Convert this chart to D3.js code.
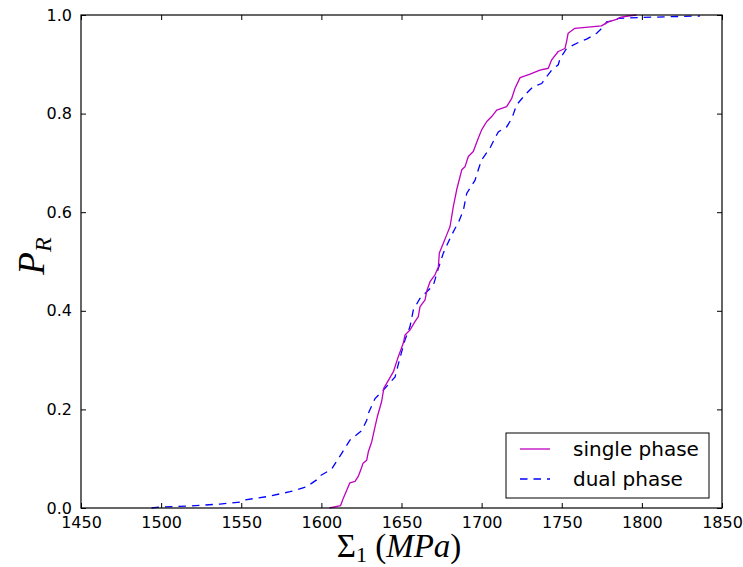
<!DOCTYPE html>
<html>
<head>
<meta charset="utf-8">
<script src="https://cdn.jsdelivr.net/npm/d3@7"></script>
<style>
  body { margin: 0; background: #fff; }
</style>
</head>
<body>
<div id="graph"></div>
<script>
// single phase (solid magenta)
var singleX = [1605, 1612, 1613.7, 1617.8, 1621, 1623, 1625, 1626, 1628.3, 1629.3, 1631.4, 1633.5, 1634.9,
  1637.6, 1639, 1644.9, 1648, 1651.1, 1652.2, 1655.3, 1658.4, 1660.5, 1661.5, 1664.7, 1665.7, 1667.8,
  1670.9, 1673, 1673.6, 1676.1, 1678.2, 1680.3, 1682.3, 1684.4, 1687.6, 1689.6, 1691.7, 1694.8, 1697.9,
  1700, 1703.2, 1706.3, 1709.4, 1715.6, 1718.8, 1720.8, 1724, 1730.2, 1736.4, 1741.6, 1743.7, 1747.8,
  1752, 1753, 1754, 1758.2, 1774.8, 1779, 1784.2, 1786.3, 1791.5, 1796.7];
var singleP = [0.0, 0.005, 0.02, 0.051, 0.054, 0.064, 0.081, 0.091, 0.097, 0.114, 0.134, 0.165, 0.185,
  0.216, 0.243, 0.276, 0.307, 0.334, 0.351, 0.361, 0.378, 0.388, 0.408, 0.422, 0.439, 0.459,
  0.473, 0.489, 0.517, 0.537, 0.554, 0.571, 0.611, 0.645, 0.686, 0.692, 0.713, 0.723, 0.75,
  0.767, 0.784, 0.794, 0.807, 0.814, 0.831, 0.851, 0.873, 0.88, 0.888, 0.892, 0.909, 0.926,
  0.932, 0.946, 0.963, 0.973, 0.978, 0.986, 0.991, 0.995, 0.998, 1.0];

// dual phase (dashed blue)
var dualX = [1494, 1499.3, 1518, 1536.7, 1549, 1551.3, 1565.9, 1580.4, 1590.8, 1597, 1599, 1606.4,
  1612.7, 1617.9, 1625.2, 1628.3, 1629.3, 1633.5, 1639.7, 1646, 1649, 1652.2, 1655.3, 1657.4, 1661.5,
  1669.9, 1673, 1676.1, 1680.3, 1683.4, 1685.4, 1688.6, 1690.7, 1695.9, 1697.9, 1700, 1705.2, 1708.3,
  1710.4, 1715.6, 1718.8, 1721.9, 1727.1, 1732.2, 1737.5, 1740.6, 1743.7, 1747.8, 1749, 1753, 1761.4,
  1765.5, 1771.8, 1776, 1778, 1782.2, 1785.3, 1798.8, 1836.2];
var dualP = [0.0, 0.002, 0.004, 0.008, 0.012, 0.016, 0.023, 0.033, 0.043, 0.057, 0.065, 0.079,
  0.111, 0.138, 0.157, 0.178, 0.192, 0.222, 0.243, 0.266, 0.304, 0.341, 0.368, 0.402, 0.425,
  0.452, 0.486, 0.517, 0.547, 0.567, 0.578, 0.604, 0.638, 0.665, 0.686, 0.706, 0.73, 0.75,
  0.763, 0.773, 0.79, 0.818, 0.838, 0.855, 0.861, 0.875, 0.888, 0.899, 0.912, 0.932, 0.946,
  0.951, 0.963, 0.976, 0.986, 0.988, 0.993, 0.995, 0.998];

var xTicks = [1450, 1500, 1550, 1600, 1650, 1700, 1750, 1800, 1850];
var yTicks = [0.0, 0.2, 0.4, 0.6, 0.8, 1.0];
var seriesNames = ["single phase", "dual phase"];

var svgWidth = 743, svgHeight = 567;
var margin = { top: 15, right: 21, bottom: 59, left: 81 };
var width = svgWidth - margin.left - margin.right;
var height = svgHeight - margin.top - margin.bottom;

var svg = d3.select("#graph").append("svg")
    .attr("width", svgWidth)
    .attr("height", svgHeight);

var g = svg.append("g")
    .attr("transform", "translate(" + margin.left + "," + margin.top + ")");

var x = d3.scaleLinear().domain([1450, 1850]).range([0, width]);
var y = d3.scaleLinear().domain([0, 1]).range([height, 0]);

// ticks pointing inward on all four sides
function styleAxis(sel) {
  sel.select(".domain").remove();
  sel.selectAll(".tick line").attr("stroke", "#000").attr("stroke-width", 1);
  sel.selectAll(".tick text")
     .style("font-size", "16px")
     .style("font-family", "'DejaVu Sans', sans-serif")
     .attr("fill", "#000");
}

g.append("g")
    .attr("transform", "translate(0," + height + ")")
    .call(d3.axisBottom(x).tickValues(xTicks).tickFormat(d3.format("d")).tickSizeInner(-5).tickPadding(9))
    .call(styleAxis);

g.append("g")
    .call(d3.axisTop(x).tickValues(xTicks).tickFormat("").tickSizeInner(-5))
    .call(styleAxis);

g.append("g")
    .call(d3.axisLeft(y).tickValues(yTicks).tickFormat(d3.format(".1f")).tickSizeInner(-5).tickPadding(9))
    .call(styleAxis);

g.append("g")
    .attr("transform", "translate(" + width + ",0)")
    .call(d3.axisRight(y).tickValues(yTicks).tickFormat("").tickSizeInner(-5))
    .call(styleAxis);

var line = d3.line()
    .x(function(d) { return x(d[0]); })
    .y(function(d) { return y(d[1]); });

g.append("path")
    .datum(d3.zip(dualX, dualP))
    .attr("fill", "none")
    .attr("stroke", "#0000ff")
    .attr("stroke-width", 1.3)
    .attr("stroke-dasharray", "7.5,6")
    .attr("d", line);

g.append("path")
    .datum(d3.zip(singleX, singleP))
    .attr("fill", "none")
    .attr("stroke", "#bf00bf")
    .attr("stroke-width", 1.3)
    .attr("stroke-linejoin", "round")
    .attr("d", line);

// frame
g.append("rect")
    .attr("width", width).attr("height", height)
    .attr("fill", "none").attr("stroke", "#000").attr("stroke-width", 1.2);

// legend
var legend = g.append("g").attr("transform", "translate(" + (506 - margin.left) + "," + (433 - margin.top) + ")");
legend.append("rect")
    .attr("width", 203).attr("height", 65)
    .attr("fill", "#fff").attr("stroke", "#000").attr("stroke-width", 1);
var styles = [{ c: "#bf00bf", d: null }, { c: "#0000ff", d: "7.5,6" }];
seriesNames.forEach(function(name, i) {
  var yy = 16 + i * 30;
  legend.append("line")
      .attr("x1", 14).attr("x2", 44).attr("y1", yy).attr("y2", yy)
      .attr("stroke", styles[i].c).attr("stroke-width", 1.3)
      .attr("stroke-dasharray", styles[i].d);
  legend.append("text")
      .attr("x", 67).attr("y", yy + 7)
      .style("font-family", "'DejaVu Sans', sans-serif")
      .style("font-size", "20px")
      .text(name);
});

// axis labels
svg.append("text")
    .attr("x", 399).attr("y", 557)
    .attr("text-anchor", "middle")
    .style("font-family", "'Liberation Serif', serif")
    .style("font-size", "33px")
    .call(function(t) {
      t.append("tspan").text("\u03A3");
      t.append("tspan").style("font-size", "22px").attr("dy", 5).text("1");
      t.append("tspan").attr("dy", -5).text(" (");
      t.append("tspan").style("font-style", "italic").text("MPa");
      t.append("tspan").text(")");
    });

svg.append("text")
    .attr("transform", "translate(44,256) rotate(-90)")
    .attr("text-anchor", "middle")
    .style("font-family", "'Liberation Serif', serif")
    .style("font-size", "37px")
    .style("font-style", "italic")
    .call(function(t) {
      t.append("tspan").text("P");
      t.append("tspan").style("font-size", "24px").attr("dy", 7).text("R");
    });
</script>
</body>
</html>
